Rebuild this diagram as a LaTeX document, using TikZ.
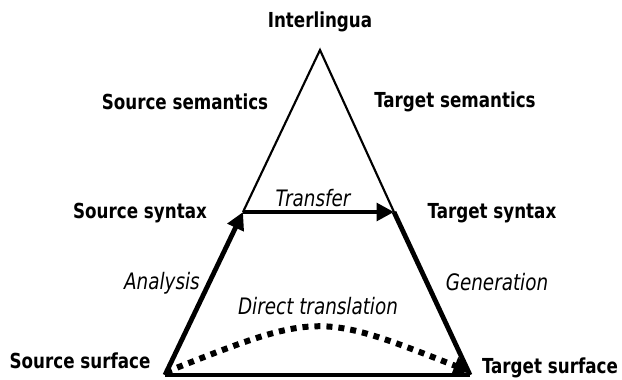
\documentclass[tikz,border=0pt]{standalone}
\usepackage{fontspec}
\setmainfont{DejaVu Sans Condensed}[FakeStretch=0.9]
\usetikzlibrary{arrows.meta}
\begin{document}
\begin{tikzpicture}[x=0.75pt,y=-0.75pt,
  lab/.style={font=\bfseries\fontsize{15.5}{18}\selectfont, inner sep=0pt},
  itl/.style={font=\itshape\fontsize{17}{20}\selectfont, inner sep=0pt},
  thin/.style={line width=1.6pt},
  thick/.style={line width=3.6pt},
  tip/.style={-{Triangle[length=13pt,width=13pt]}}]
\useasboundingbox (0,0) rectangle (622,379);
\coordinate (apex) at (320,50);
\coordinate (bl) at (165,375);
\coordinate (br) at (470,375);
\coordinate (sl) at (243,212);
\coordinate (sr) at (394,212);
\coordinate (dl) at (166,372);
\coordinate (dr) at (471,372);
\node[lab] (il) at (320,22) {Interlingua};
\node[lab] (ssem) at (185,102) {Source semantics};
\node[lab] (tsem) at (455,102) {Target semantics};
\node[lab] (ssyn) at (140,213) {Source syntax};
\node[lab] (tsyn) at (492,213) {Target syntax};
\node[lab] (ssur) at (80,361) {Source surface};
\node[lab] (tsur) at (550,368) {Target surface};
\node[itl] (tr) at (313,198) {Transfer};
\node[itl] (an) at (162,283) {Analysis};
\node[itl] (ge) at (497,282) {Generation};
\node[itl] (dt) at (318,306) {Direct translation};
\draw[thin] (sl) -- (apex) -- (sr);
\draw[line width=2.6pt] (bl) -- (br);
\draw[thick,tip] (bl) -- (sl);
\draw[thick,tip] (sl) -- (sr);
\draw[thick] (sr) -- (br);
\draw[line width=4.5pt, dash pattern=on 4.5pt off 4.5pt, -{Triangle[length=13pt,width=13pt]}] (dl) .. controls (318,312) .. (dr);
\end{tikzpicture}
\end{document}
